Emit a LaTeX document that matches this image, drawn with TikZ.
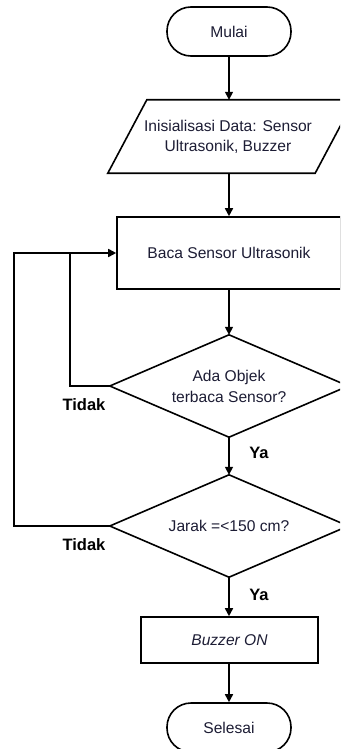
\documentclass[tikz,border=0pt]{standalone}
\usepackage{fontspec}
\setmainfont{Liberation Sans}
\usetikzlibrary{arrows.meta,calc}
\definecolor{txt}{RGB}{28,28,52}
\begin{document}
\begin{tikzpicture}[x=1pt,y=-1pt,
  every node/.style={font=\fontsize{15.6}{19}\selectfont, text=txt, align=center, inner sep=0pt},
  ln/.style={line width=1.6pt, draw=black},
  arr/.style={ln, -{Triangle[width=8pt,length=8pt]}},
  term/.style={ln, rounded corners=24pt, minimum width=124pt, minimum height=49pt},
  proc/.style={ln, rectangle, minimum height=46pt},
  lbl/.style={font=\fontsize{16.5}{18}\selectfont\bfseries, text=black}]
\useasboundingbox (0,0) rectangle (340,749);
\clip (0,0) rectangle (340,749);
% nodes
\node[term] (mulai) at (229,31.5) {Mulai};
\node[minimum width=207pt, minimum height=73pt] (init) at (228,136.5) {Inisialisasi Data: Sensor\\[1pt]Ultrasonik, Buzzer};
\draw[ln] ($(init.south west)+(-16.5,0)$) -- ($(init.north west)+(22.5,0)$) -- ($(init.north east)+(22.5,0)$) -- ($(init.south east)+(-16.5,0)$) -- cycle;
\node[proc, minimum width=224pt, minimum height=72pt] (baca) at (229,253) {Baca Sensor Ultrasonik};
\node[minimum width=238pt, minimum height=102pt] (d1) at (229,386) {Ada Objek\\[2pt]terbaca Sensor?};
\draw[ln] (d1.north) -- (d1.east) -- (d1.south) -- (d1.west) -- cycle;
\node[minimum width=238pt, minimum height=102pt] (d2) at (229,526) {Jarak =<150 cm?};
\draw[ln] (d2.north) -- (d2.east) -- (d2.south) -- (d2.west) -- cycle;
\node[proc, minimum width=177pt] (buzz) at (229.5,640) {\itshape Buzzer ON};
\node[term] (selesai) at (229,727.5) {Selesai};
% connectors
\draw[arr] (mulai.south) -- (mulai.south |- init.north);
\draw[arr] (mulai.south |- init.south) -- (mulai.south |- baca.north);
\draw[arr] (baca.south) -- (d1.north);
\draw[arr] (d1.south) -- (d2.north);
\draw[arr] (d2.south) -- (d2.south |- buzz.north);
\draw[arr] (d2.south |- buzz.south) -- (selesai.north);
\coordinate (j1) at (70,386);
\coordinate (j2) at (14,526);
\coordinate (jm) at (70,253);
\draw[arr] (d1.west) -- (j1) |- (baca.west);
\draw[ln] (d2.west) -- (j2) |- (jm);
% labels
\node[lbl] (t1) at (84,405) {Tidak};
\node[lbl] (t2) at (84,545) {Tidak};
\node[lbl] (y1) at (259,453) {Ya};
\node[lbl] (y2) at (259,595) {Ya};
\end{tikzpicture}
\end{document}
